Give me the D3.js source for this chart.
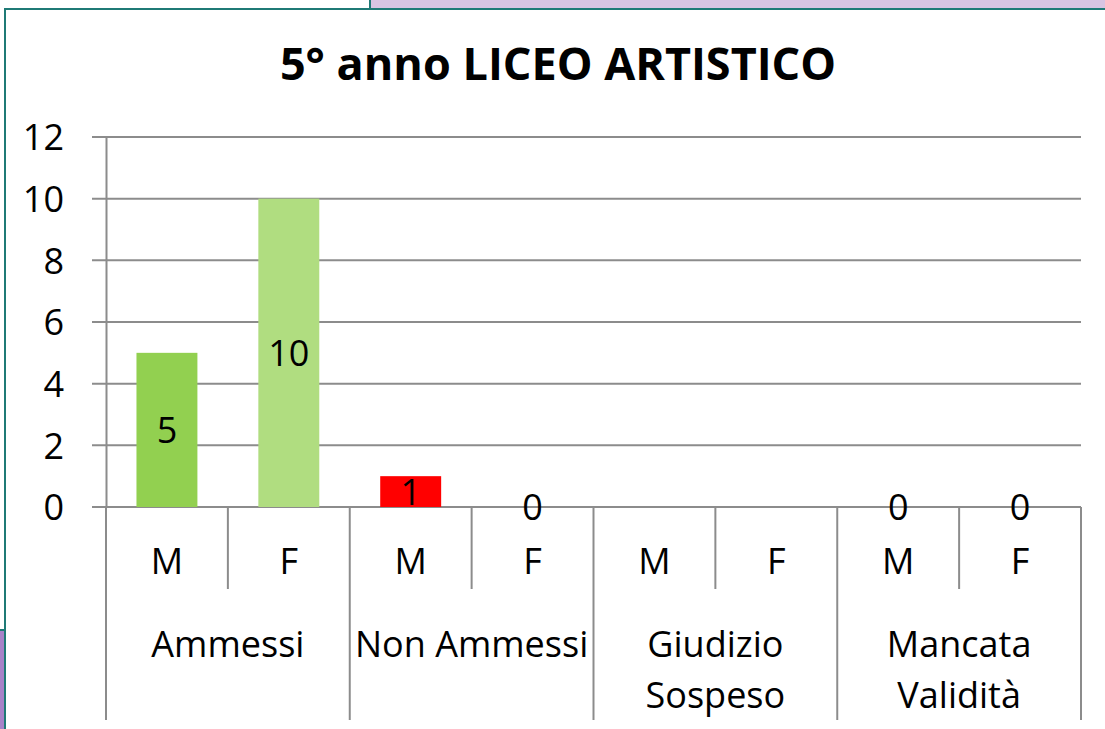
<!DOCTYPE html>
<html lang='it'>
<head>
<meta charset='utf8'>
<title>5° anno LICEO ARTISTICO</title>
<script src="https://cdn.jsdelivr.net/npm/d3@7"></script>
<style>
  body { margin: 0; background: #fff; }
  text { font-family: 'Open Sans', 'Noto Sans', sans-serif; fill: #000; }
</style>
</head>
<body>
<svg id='chart' width='1105' height='729'></svg>
<script>
// chart data
var title = '5° anno LICEO ARTISTICO';
var groups = [['Ammessi'], ['Non Ammessi'], ['Giudizio', 'Sospeso'], ['Mancata', 'Validità']];
var sexes = ['M', 'F'];
var values = [5, 10, 1, 0, null, null, 0, 0];
var barColors = ['#92D050', '#B0DD80', '#FF0000', '#FF0000', '#92D050', '#B0DD80', '#92D050', '#B0DD80'];
var yTicks = [0, 2, 4, 6, 8, 10, 12];

var svg = d3.select('#chart');
var gridColor = '#8c8c8c';
var frameColor = '#1f7a76';

// slide frame around the chart
svg.append('rect').attr('x', 371).attr('y', 0).attr('width', 734).attr('height', 9).attr('fill', '#d8c4e2');
svg.append('line').attr('x1', 370).attr('x2', 370).attr('y1', 0).attr('y2', 9)
    .attr('stroke', frameColor).attr('stroke-width', 2);
svg.append('rect').attr('x', 0).attr('y', 631).attr('width', 5).attr('height', 98).attr('fill', '#a882c8');
svg.append('line').attr('x1', 0).attr('x2', 6).attr('y1', 630).attr('y2', 630)
    .attr('stroke', frameColor).attr('stroke-width', 2);
svg.append('line').attr('x1', 4).attr('x2', 1105).attr('y1', 9).attr('y2', 9)
    .attr('stroke', frameColor).attr('stroke-width', 2);
svg.append('line').attr('x1', 5).attr('x2', 5).attr('y1', 9).attr('y2', 729)
    .attr('stroke', frameColor).attr('stroke-width', 2);

// scales
var cats = d3.range(values.length);
var x = d3.scaleBand().domain(cats).range([106, 1081]).padding(0);
var y = d3.scaleLinear().domain([0, 12]).range([507, 137]);
var bw = x.bandwidth();

// title
svg.append('text')
    .attr('x', 558).attr('y', 80)
    .attr('text-anchor', 'middle')
    .style('font-size', '45px').style('font-weight', 'bold')
    .text(title);

// gridlines
svg.append('g').selectAll('line').data(yTicks).enter().append('line')
    .attr('x1', 92).attr('x2', 1081)
    .attr('y1', function(d) { return y(d); }).attr('y2', function(d) { return y(d); })
    .attr('stroke', gridColor).attr('stroke-width', 2);

// y axis
var yAxis = d3.axisLeft(y).tickValues(yTicks).tickSize(0).tickSizeOuter(0).tickPadding(42);
var ya = svg.append('g').attr('transform', 'translate(106,0)').call(yAxis);
ya.select('.domain').attr('stroke', gridColor).attr('stroke-width', 2);
ya.selectAll('text').style('font-size', '36px').style('font-family', "'Open Sans', sans-serif")
    .attr('fill', '#000').attr('dy', '0.36em');

// bars
svg.append('g').selectAll('rect').data(cats.filter(function(i) { return values[i] !== null; })).enter()
    .append('rect')
    .attr('x', function(i) { return x(i) + bw * 0.25; })
    .attr('width', bw * 0.5)
    .attr('y', function(i) { return y(values[i]); })
    .attr('height', function(i) { return y(0) - y(values[i]); })
    .attr('fill', function(i) { return barColors[i]; });

// category separators
svg.append('g').selectAll('line').data(d3.range(values.length + 1)).enter().append('line')
    .attr('x1', function(i) { return 106 + i * bw; })
    .attr('x2', function(i) { return 106 + i * bw; })
    .attr('y1', 507)
    .attr('y2', function(i) { return i % 2 === 0 ? 720 : 589; })
    .attr('stroke', gridColor).attr('stroke-width', 2);

// data labels
svg.append('g').selectAll('text').data(cats.filter(function(i) { return values[i] !== null; })).enter()
    .append('text')
    .attr('x', function(i) { return x(i) + bw / 2; })
    .attr('y', function(i) { return (y(values[i]) + y(0)) / 2; })
    .attr('dy', '0.36em')
    .attr('text-anchor', 'middle')
    .style('font-size', '36px')
    .text(function(i) { return values[i]; });

// M / F labels
svg.append('g').selectAll('text').data(cats).enter().append('text')
    .attr('x', function(i) { return x(i) + bw / 2; })
    .attr('y', 574)
    .attr('text-anchor', 'middle')
    .style('font-size', '36px')
    .text(function(i) { return sexes[i % 2]; });

// group labels
groups.forEach(function(lines, gi) {
    var cx = x(gi * 2) + bw;
    lines.forEach(function(line, li) {
        svg.append('text')
            .attr('x', cx).attr('y', 657 + li * 51)
            .attr('text-anchor', 'middle')
            .style('font-size', '36px')
            .text(line);
    });
});
</script>
</body>
</html>
